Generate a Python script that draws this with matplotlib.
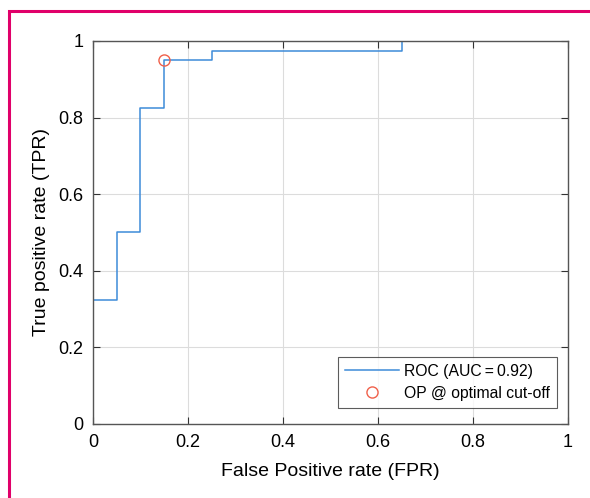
import numpy as np
import matplotlib.pyplot as plt
from matplotlib.patches import Rectangle

# ROC curve steps (FPR, TPR)
fpr = [0, 0, 0.05, 0.05, 0.10, 0.10, 0.15, 0.15, 0.25, 0.25, 0.65, 0.65, 1.0]
tpr = [0, 0.325, 0.325, 0.5, 0.5, 0.825, 0.825, 0.95, 0.95, 0.975, 0.975, 1.0, 1.0]
op_fpr = [0.15]
op_tpr = [0.95]
auc = 0.92
ticks = [0, 0.2, 0.4, 0.6, 0.8, 1]

plt.rcParams['font.family'] = ['Liberation Sans', 'DejaVu Sans']

fig = plt.figure(figsize=(5.9, 4.98), dpi=100)
ax = fig.add_axes([0.1576, 0.1486, 0.8051, 0.7691])

# magenta frame around the figure
fig.patches.append(Rectangle((8.5 / 590, -0.05), 1.2, 1 - 11.5 / 498 + 0.05,
                             transform=fig.transFigure, fill=False,
                             edgecolor='#e0006a', linewidth=2.2))

ax.plot(fpr, tpr, color='#3d8bd9', linewidth=1.1, label='ROC (AUC\u2009=\u20090.92)')
ax.plot(op_fpr, op_tpr, 'o', markerfacecolor='none', markeredgecolor='#f0604a',
        markersize=8, markeredgewidth=1.0, linestyle='none',
        label='OP @ optimal cut-off')

ax.set_xlim(0, 1)
ax.set_ylim(0, 1)
ax.set_xticks(ticks)
ax.set_yticks(ticks)
ax.set_xticklabels(['0', '0.2', '0.4', '0.6', '0.8', '1'])
ax.set_yticklabels(['0', '0.2', '0.4', '0.6', '0.8', '1'])
ax.grid(True, color='#dcdcdc', linewidth=0.8)
ax.set_axisbelow(True)
ax.tick_params(direction='in', top=True, right=True, length=5, width=0.8,
               colors='#333333', labelsize=13, labelcolor='black', pad=7)
for s in ax.spines.values():
    s.set_color('#555555')
    s.set_linewidth(1.0)

ax.set_xlabel('False Positive rate (FPR)', fontsize=14, labelpad=9)
ax.set_ylabel('True positive rate (TPR)', fontsize=14, labelpad=6)

leg = ax.legend(loc='lower right', fontsize=11.3, frameon=True, fancybox=False,
                edgecolor='#333333', handlelength=3.4, borderaxespad=0,
                labelspacing=0.45, handletextpad=0.35, borderpad=0.45,
                bbox_to_anchor=(0.977, 0.042))
leg.get_frame().set_linewidth(0.8)

fig.savefig('out.png', dpi=100)
